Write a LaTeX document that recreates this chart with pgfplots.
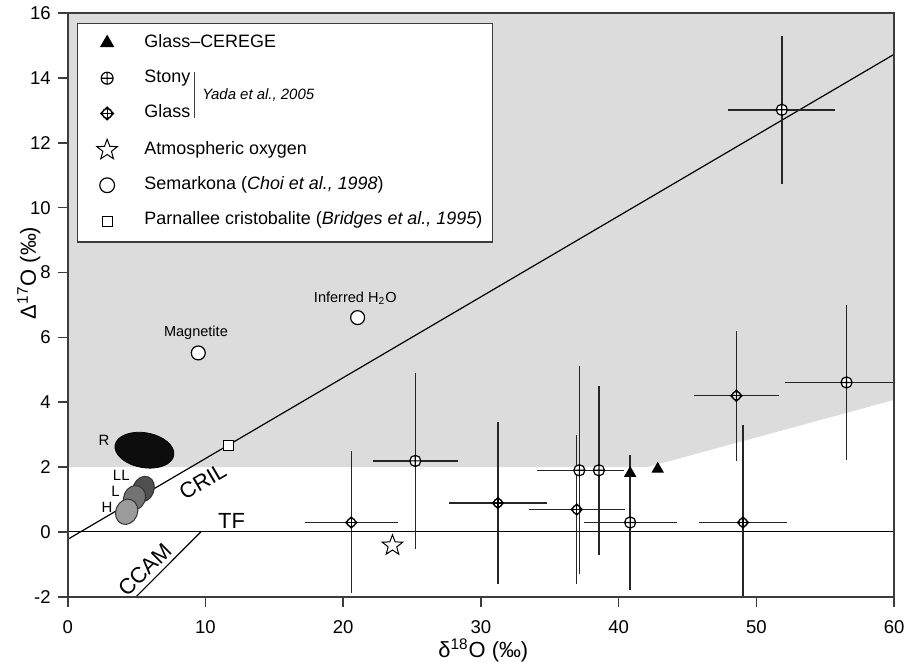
\documentclass[border=0pt]{standalone}
\usepackage{pgfplots}
\pgfplotsset{compat=1.18}
\usepackage{pgfplotstable}
\usepackage{fontspec}
\setmainfont{Liberation Sans}
\usetikzlibrary{plotmarks}

\definecolor{shade}{RGB}{220,220,220}
\definecolor{axgray}{RGB}{60,60,60}
\definecolor{llgray}{RGB}{80,80,80}
\definecolor{lgray}{RGB}{115,115,115}
\definecolor{hgray}{RGB}{155,155,155}

% circle with diamond tips and a cross (Glass)
\pgfdeclareplotmark{glass}{%
  \pgfpathcircle{\pgfpointorigin}{0.78\pgfplotmarksize}%
  \pgfpathmoveto{\pgfqpoint{0pt}{\pgfplotmarksize}}%
  \pgfpathlineto{\pgfqpoint{\pgfplotmarksize}{0pt}}%
  \pgfpathlineto{\pgfqpoint{0pt}{-\pgfplotmarksize}}%
  \pgfpathlineto{\pgfqpoint{-\pgfplotmarksize}{0pt}}%
  \pgfpathclose
  \pgfusepathqfillstroke
  \pgfpathmoveto{\pgfqpoint{0pt}{\pgfplotmarksize}}%
  \pgfpathlineto{\pgfqpoint{0pt}{-\pgfplotmarksize}}%
  \pgfpathmoveto{\pgfqpoint{\pgfplotmarksize}{0pt}}%
  \pgfpathlineto{\pgfqpoint{-\pgfplotmarksize}{0pt}}%
  \pgfusepathqstroke
}
% open five-pointed star
\pgfdeclareplotmark{ostar}{%
  \pgfpathmoveto{\pgfqpointpolar{90}{\pgfplotmarksize}}%
  \pgfpathlineto{\pgfqpointpolar{126}{0.42\pgfplotmarksize}}%
  \pgfpathlineto{\pgfqpointpolar{162}{\pgfplotmarksize}}%
  \pgfpathlineto{\pgfqpointpolar{198}{0.42\pgfplotmarksize}}%
  \pgfpathlineto{\pgfqpointpolar{234}{\pgfplotmarksize}}%
  \pgfpathlineto{\pgfqpointpolar{270}{0.42\pgfplotmarksize}}%
  \pgfpathlineto{\pgfqpointpolar{306}{\pgfplotmarksize}}%
  \pgfpathlineto{\pgfqpointpolar{342}{0.42\pgfplotmarksize}}%
  \pgfpathlineto{\pgfqpointpolar{18}{\pgfplotmarksize}}%
  \pgfpathlineto{\pgfqpointpolar{54}{0.42\pgfplotmarksize}}%
  \pgfpathclose
  \pgfusepathqfillstroke
}

% x y and symmetric errors
\pgfplotstableread{
x     y     ex    ey
25.24 2.19  3.10  2.71
37.15 1.90  3.05  3.21
38.57 1.90  1.85  2.60
40.84 0.29  3.37  2.09
56.55 4.61  4.50  2.40
51.85 13.02 3.88  2.29
}\stony

\pgfplotstableread{
x     y     ex    ey
20.59 0.29  3.38  2.19
31.24 0.89  3.58  2.50
36.96 0.69  3.50  2.30
48.55 4.20  3.10  2.00
49.03 0.29  3.20  3.00
}\glass

\begin{document}
\begin{tikzpicture}
\begin{axis}[
  scale only axis,
  width=414.9pt, height=293pt,
  xmin=0, xmax=60, ymin=-2, ymax=16,
  xtick={0,10,...,60}, ytick={-2,0,...,16},
  tick pos=left, tick align=outside,
  major tick length=5pt,
  axis on top,
  axis line style={axgray, line width=0.8pt},
  every tick/.style={axgray, line width=0.8pt},
  /pgf/number format/assume math mode=true,
  tick label style={font=\fontsize{9.3}{11}\selectfont},
  xticklabel style={yshift=-3.5pt},
  xlabel={δ\textsuperscript{18}O (‰)},
  ylabel={Δ\textsuperscript{17}O (‰)},
  label style={font=\fontsize{11}{13}\selectfont},
  xlabel style={at={(axis description cs:0.503,-0.104)}, anchor=base},
  ylabel style={at={(axis description cs:-0.047,0.555)}, anchor=center},
  legend image code/.code={%
    \path (0pt,0pt) (26pt,0pt);
    \draw[#1] plot coordinates {(9.4pt,0pt)};},
  legend style={at={(axis description cs:0,1)}, anchor=north west,
    xshift=4.7pt, yshift=-4.85pt,
    draw=axgray, line width=0.7pt,
    font=\fontsize{9}{11}\selectfont,
    inner xsep=5pt, inner ysep=5pt,
    row sep=8.2pt, column sep=1.8pt,
    nodes={inner sep=0pt, text height=7pt, text depth=2.5pt}},
  legend cell align=left,
]
\addlegendimage{only marks, mark=triangle*, mark size=3.5pt, black}
\addlegendentry{Glass–CEREGE}
\addlegendimage{only marks, mark=oplus*, mark size=3pt, black, mark options={fill=white, line width=0.6pt}}
\addlegendentry{Stony}
\addlegendimage{only marks, mark=glass, mark size=3.2pt, black, mark options={fill=white, line width=0.6pt}}
\addlegendentry{Glass}
\addlegendimage{only marks, mark=ostar, mark size=5.4pt, black, mark options={fill=white, line width=0.5pt}}
\addlegendentry{Atmospheric oxygen}
\addlegendimage{only marks, mark=*, mark size=3.7pt, black, mark options={fill=white, line width=0.6pt}}
\addlegendentry{Semarkona (\textit{Choi et al., 1998})}
\addlegendimage{only marks, mark=square*, mark size=2.5pt, black, mark options={fill=white, line width=0.6pt}}
\addlegendentry[text depth=3.6pt]{Parnallee cristobalite (\textit{Bridges et al., 1995})}

% shaded field
\addplot[fill=shade, draw=none, forget plot] coordinates {(0,2) (42.1,2) (60,4.07) (60,16) (0,16)} -- cycle;

% reference lines: TF, CRIL, CCAM
\addplot[black, line width=0.6pt, forget plot] coordinates {(0,0) (60,0)};
\addplot[black, line width=0.6pt, forget plot] coordinates {(0,-0.23) (60,14.73)};
\addplot[black, line width=0.6pt, forget plot] coordinates {(4.97,-2) (9.67,0)};

% chondrite fields R, LL, L, H
\addplot[only marks, forget plot, mark=*, mark size=8.75pt,
  mark options={fill=black!95, draw=black, rotate=-10, xscale=1.71}] coordinates {(5.57,2.52)};
\addplot[only marks, forget plot, mark=*, mark size=6.6pt,
  mark options={fill=llgray, draw=black!80, line width=0.5pt, rotate=-22, xscale=0.8}] coordinates {(5.5,1.32)};
\addplot[only marks, forget plot, mark=*, mark size=6.3pt,
  mark options={fill=lgray, draw=black!80, line width=0.5pt, rotate=-22, xscale=0.86}] coordinates {(4.85,1.05)};
\addplot[only marks, forget plot, mark=*, mark size=6.5pt,
  mark options={fill=hgray, draw=black!80, line width=0.5pt, rotate=-22, xscale=0.84}] coordinates {(4.28,0.62)};

% Yada et al. 2005
\addplot[only marks, forget plot, mark=oplus*, mark size=2.8pt,
  mark options={fill=white, line width=0.6pt},
  error bars/.cd, x dir=both, y dir=both, x explicit, y explicit, error mark=none,
  error bar style={line width=0.75pt, black!85}]
  table[x=x, y=y, x error=ex, y error=ey] {\stony};
\addplot[only marks, forget plot, mark=glass, mark size=2.8pt,
  mark options={fill=white, line width=0.6pt},
  error bars/.cd, x dir=both, y dir=both, x explicit, y explicit, error mark=none,
  error bar style={line width=0.75pt, black!85}]
  table[x=x, y=y, x error=ex, y error=ey] {\glass};

% Glass-CEREGE
\addplot[only marks, forget plot, mark=triangle*, mark size=3.2pt, black] coordinates {(40.84,1.81) (42.84,1.94)};
% atmospheric oxygen
\addplot[only marks, forget plot, mark=ostar, mark size=5.4pt, black, mark options={fill=white, line width=0.5pt}] coordinates {(23.58,-0.42)};
% Semarkona
\addplot[only marks, forget plot, mark=*, mark size=3.5pt, black, mark options={fill=white, line width=0.6pt}] coordinates {(9.48,5.52) (21.05,6.61)};
% Parnallee cristobalite
\addplot[only marks, forget plot, mark=square*, mark size=2.5pt, black, mark options={fill=white, line width=0.6pt}] coordinates {(11.67,2.67)};

% labels
\node[font=\fontsize{7.3}{9}\selectfont] at (axis cs:9.31,6.13) {Magnetite};
\node[font=\fontsize{7.3}{9}\selectfont] at (axis cs:20.88,7.2) {Inferred H\textsubscript{2}O};
\node[font=\fontsize{7.5}{9}\selectfont] at (axis cs:2.63,2.82) {R};
\node[font=\fontsize{7.5}{9}\selectfont] at (axis cs:3.89,1.73) {LL};
\node[font=\fontsize{7.5}{9}\selectfont] at (axis cs:3.48,1.26) {L};
\node[font=\fontsize{7.5}{9}\selectfont] at (axis cs:2.85,0.77) {H};
\node[font=\fontsize{11}{13}\selectfont, rotate=30.4, inner sep=0pt] at (axis cs:9.8,1.55) {CRIL};
\node[font=\fontsize{11}{13}\selectfont, inner sep=0pt] at (axis cs:11.9,0.35) {TF};
\node[font=\fontsize{11}{13}\selectfont, rotate=44.7, inner sep=0pt] at (axis cs:5.62,-1.16) {CCAM};

\coordinate (ya1) at (axis description cs:0.1532,0.8993);
\coordinate (ya2) at (axis description cs:0.1532,0.8203);
\coordinate (ya3) at (axis description cs:0.1624,0.860);
\end{axis}
\path ([xshift=-34pt,yshift=-35pt]current axis.south west) rectangle ([xshift=6.65pt,yshift=6pt]current axis.north east);
\draw[axgray, line width=0.6pt] (ya1) -- (ya2);
\node[anchor=west, inner sep=0pt, font=\fontsize{7.5}{9}\selectfont\itshape] at (ya3) {Yada et al., 2005};
\end{tikzpicture}
\end{document}
